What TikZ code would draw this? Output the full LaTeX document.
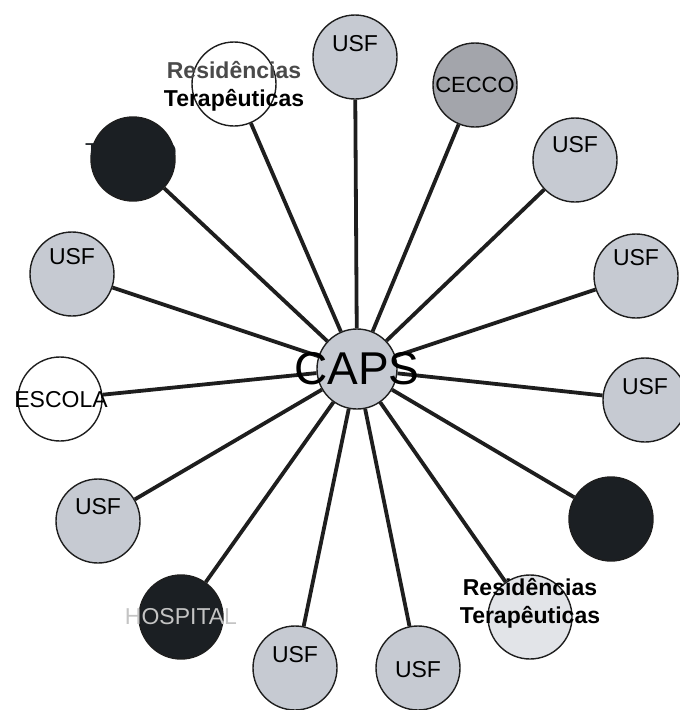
\documentclass[tikz,border=0pt]{standalone}
\usepackage{fontspec}
\setmainfont{Liberation Sans}
\usetikzlibrary{backgrounds}
\definecolor{usfgray}{HTML}{C6CAD2}
\definecolor{ceccogray}{HTML}{A3A5AB}
\definecolor{darkfill}{HTML}{1B1F23}
\definecolor{palefill}{HTML}{E2E4E8}
\definecolor{edge}{HTML}{1E1E1E}
\definecolor{resgray}{HTML}{4A4A4A}
\definecolor{hosptext}{HTML}{C4C4C4}
\begin{document}
\begin{tikzpicture}[x=1pt,y=-1pt,
  ball/.style={circle,draw=edge,line width=1.4pt,inner sep=0pt,minimum size=#1},
  ball/.default=84pt,
  usfball/.style={ball,fill=usfgray},
  whiteball/.style={ball,fill=white},
  darkball/.style={ball,fill=darkfill},
  lbl/.style={font=\fontsize{23}{23}\selectfont,inner sep=0pt},
  reslbl/.style={font=\fontsize{23}{28}\selectfont\bfseries,inner sep=0pt,align=center},
  link/.style={line width=3.8pt,draw=edge}]
\useasboundingbox (0,0) rectangle (680,710);
% nodes
\node[ball=80pt,fill=usfgray] (caps) at (357,369) {};
\node[whiteball] (r1) at (234,84) {};
\node[usfball] (u1) at (355,57) {};
\node[ball,fill=ceccogray] (cecco) at (475,85) {};
\node[usfball] (u2) at (575,160) {};
\node[usfball] (u3) at (636,276) {};
\node[usfball] (u4) at (645,400) {};
\node[darkball] (b2) at (611,519) {};
\node[ball,fill=palefill] (r2) at (530,617) {};
\node[usfball] (u5) at (418,668) {};
\node[usfball] (u6) at (295,668) {};
\node[darkball] (hosp) at (181,617) {};
\node[usfball] (u7) at (98,521) {};
\node[whiteball] (escola) at (60,399) {};
\node[usfball] (u8) at (72,274) {};
\node[darkball] (b1) at (133,159) {};
% connectors
\begin{scope}[on background layer]
\foreach \n in {r1,u1,cecco,u2,u3,u4,b2,r2,u5,u6,hosp,u7,escola,u8,b1}
  \draw[link] (caps) -- (\n);
\end{scope}
% labels
\node[font=\fontsize{46}{46}\selectfont,inner sep=0pt] (capst) at (caps.center) {CAPS};
\node[reslbl] (r1t) at ([yshift=-2pt]r1.center) {\textcolor{resgray}{Residências}\\Terapêuticas};
\node[lbl] (u1t) at ([yshift=13pt]u1.center) {USF};
\node[lbl,font=\fontsize{22}{22}\selectfont] (ceccot) at (cecco.center) {CECCO};
\node[lbl] (u2t) at ([yshift=15pt]u2.center) {USF};
\node[lbl] (u3t) at ([yshift=18pt]u3.center) {USF};
\node[lbl] (u4t) at ([yshift=13pt]u4.center) {USF};
\node[reslbl] (r2t) at ([yshift=14pt]r2.center) {Residências\\Terapêuticas};
\node[lbl] (u5t) at ([yshift=-2pt]u5.center) {USF};
\node[lbl] (u6t) at ([yshift=13pt]u6.center) {USF};
\node[lbl,text=hosptext] (hospt) at (hosp.center) {HOSPITAL};
\node[lbl] (u7t) at ([yshift=14pt]u7.center) {USF};
\node[lbl] (escolat) at ([xshift=1pt,yshift=-1pt]escola.center) {ESCOLA};
\node[lbl] (u8t) at ([yshift=17pt]u8.center) {USF};
\node[lbl,text=darkfill] (b1t) at ([xshift=-2pt,yshift=7pt]b1.center) {TEATRO};
\end{tikzpicture}
\end{document}
